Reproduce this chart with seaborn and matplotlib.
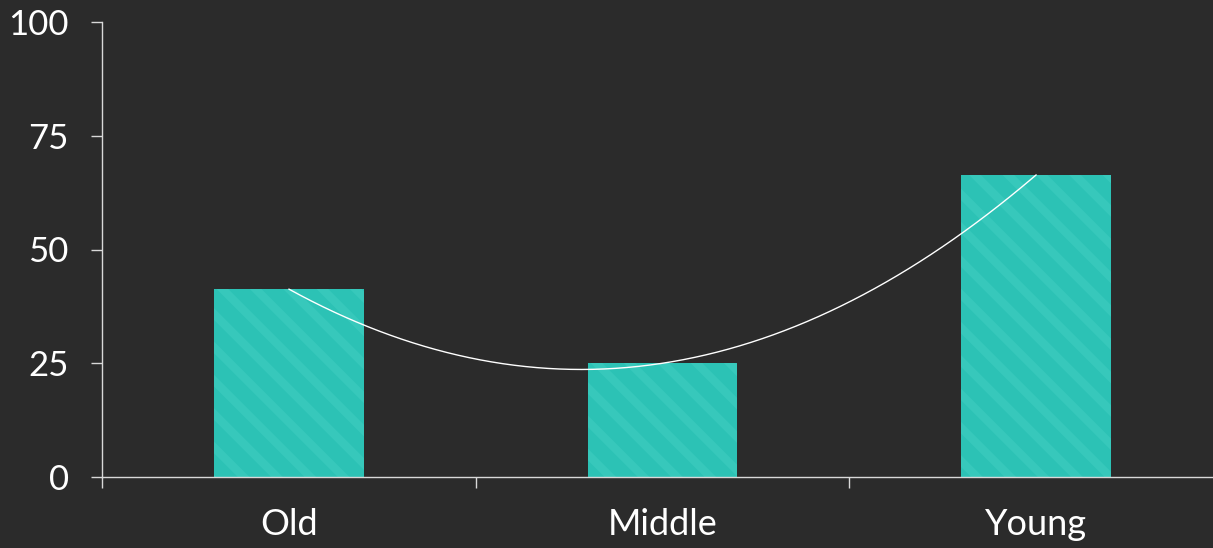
import numpy as np
import pandas as pd
import matplotlib
matplotlib.use("Agg")
import matplotlib.pyplot as plt
import seaborn as sns

# data
categories = ["Old", "Middle", "Young"]
values = [41.3, 25.0, 66.4]
y_ticks = [0, 25, 50, 75, 100]

bg = "#2b2b2b"
bar_color = "#2cc2b5"
stripe_color = "#37c8bb"
text_color = "#ffffff"
axis_color = "#d9d9d9"

sns.set_style("dark")
plt.rcParams["font.family"] = ["Lato", "DejaVu Sans"]
plt.rcParams["hatch.linewidth"] = 6

df = pd.DataFrame({"group": categories, "value": values})

fig = plt.figure(figsize=(12.13, 5.48), dpi=100, facecolor=bg)
ax = fig.add_axes([102 / 1213, 71 / 548, 1121 / 1213, 455 / 548])
ax.set_facecolor(bg)

sns.barplot(data=df, x="group", y="value", color=bar_color, width=0.4,
            saturation=1, ax=ax, zorder=2)
for p in ax.patches:
    p.set_facecolor(bar_color)
    p.set_edgecolor(stripe_color)
    p.set_linewidth(0)
    p.set_hatch("\\")

# smooth curve through the bar tops
xs = np.arange(len(values))
coef = np.polyfit(xs, values, 2)
xx = np.linspace(xs[0], xs[-1], 200)
ax.plot(xx, np.polyval(coef, xx), color="white", lw=1.0, zorder=3)

ax.set_xlim(-0.5, len(categories) - 0.5)
ax.set_ylim(0, 100)
ax.grid(False)
ax.set_xlabel("")
ax.set_ylabel("")

ax.set_yticks(y_ticks)
ax.set_yticklabels([str(t) for t in y_ticks])
ax.tick_params(axis="y", length=8, width=1, color=axis_color, pad=16,
               labelsize=25, labelcolor=text_color, left=True)

ax.set_xticks(xs)
ax.set_xticklabels(categories)
ax.tick_params(axis="x", which="major", length=0, pad=22,
               labelsize=26, labelcolor=text_color)
ax.set_xticks(np.arange(-0.5, len(categories), 1), minor=True)
ax.tick_params(axis="x", which="minor", length=8, width=1, color=axis_color,
               bottom=True)

for side in ["top", "right"]:
    ax.spines[side].set_visible(False)
for side in ["left", "bottom"]:
    ax.spines[side].set_visible(True)
    ax.spines[side].set_color(axis_color)
    ax.spines[side].set_linewidth(1.0)

fig.savefig("out.png", dpi=100, facecolor=bg)
